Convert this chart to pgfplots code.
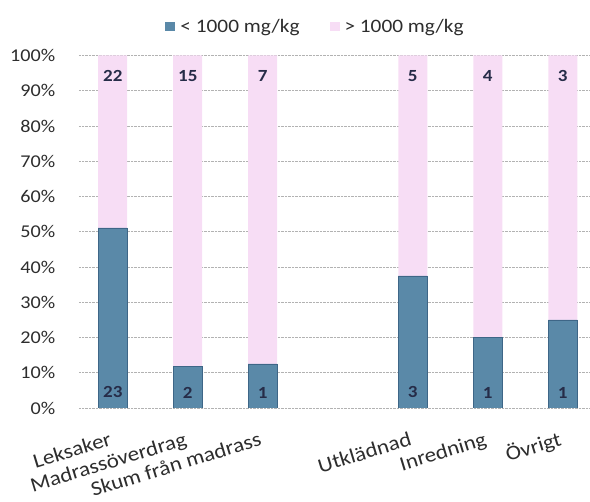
\documentclass[border=0pt]{standalone}
\usepackage{fontspec}
\setmainfont{Carlito}[FakeStretch=1.12]
\usepackage{pgfplots}
\pgfplotsset{compat=1.18}
\definecolor{barblue}{RGB}{90,137,168}
\definecolor{bluedge}{RGB}{62,102,135}
\definecolor{barpink}{RGB}{247,221,245}
\definecolor{labnavy}{RGB}{38,44,72}
\definecolor{txt}{RGB}{45,45,45}
\begin{document}
\begin{tikzpicture}
\begin{axis}[
  at={(0pt,0pt)}, anchor=south west,
  width=510pt, height=352.5pt, scale only axis,
  xmin=-0.45, xmax=6.35, ymin=0, ymax=100,
  ybar stacked, bar width=29pt,
  xtick={0,1,2,4,5,6},
  xticklabels={Leksaker,Madrassöverdrag,Skum från madrass,Utklädnad,Inredning,Övrigt},
  ytick={0,10,...,100},
  yticklabel={\pgfmathprintnumber{\tick}\%},
  /pgf/number format/assume math mode=true,
  axis line style={draw=none},
  tick style={draw=none},
  ymajorgrids,
  grid style={densely dotted, black!30, line width=0.6pt},
  yticklabel style={font=\fontsize{18}{18}\selectfont, inner sep=0pt, anchor=east, xshift=-23.5pt, text=txt},
  xticklabel style={font=\fontsize{20.5}{20.5}\selectfont, inner sep=0pt, anchor=base east, yshift=-37pt, rotate=17, text=txt},
  legend columns=2,
  legend style={draw=none, fill=none, inner sep=0pt, at={(0.1686,1.081)}, anchor=west,
    font=\fontsize{19}{19}\selectfont, text=txt,
    nodes={inner sep=0pt},
    /tikz/every even column/.append style={column sep=30pt}},
  legend image code/.code={\draw[#1, draw=none] (0pt,-4.5pt) rectangle (10pt,4.5pt); \path (15pt,0pt);},
]
\addplot[fill=barblue, draw=bluedge, line width=0.6pt] coordinates {(0,51.11) (1,11.76) (2,12.5) (4,37.5) (5,20) (6,25)};
\addplot[fill=barpink, draw=none] coordinates {(0,48.89) (1,88.24) (2,87.5) (4,62.5) (5,80) (6,75)};
\legend{< 1000 mg/kg, > 1000 mg/kg}
\end{axis}
\begin{axis}[
  at={(0pt,0pt)}, anchor=south west,
  width=510pt, height=352.5pt, scale only axis,
  xmin=-0.45, xmax=6.35, ymin=0, ymax=100,
  hide axis,
  every node near coord/.append style={anchor=center, inner sep=0pt, font=\fontsize{17}{17}\selectfont\bfseries, text=labnavy},
]
\addplot[draw=none, mark=none, nodes near coords, point meta=explicit symbolic] coordinates {(0,94.3)[22] (1,94.3)[15] (2,94.3)[7] (4,94.3)[5] (5,94.3)[4] (6,94.3)[3]};
\addplot[draw=none, mark=none, nodes near coords, point meta=explicit symbolic] coordinates {(0,4.4)[23] (1,4.4)[2] (2,4.4)[1] (4,4.4)[3] (5,4.4)[1] (6,4.4)[1]};
\end{axis}
\pgfresetboundingbox
\path (-79pt,-94pt) rectangle (511pt,408pt);
\end{tikzpicture}
\end{document}
